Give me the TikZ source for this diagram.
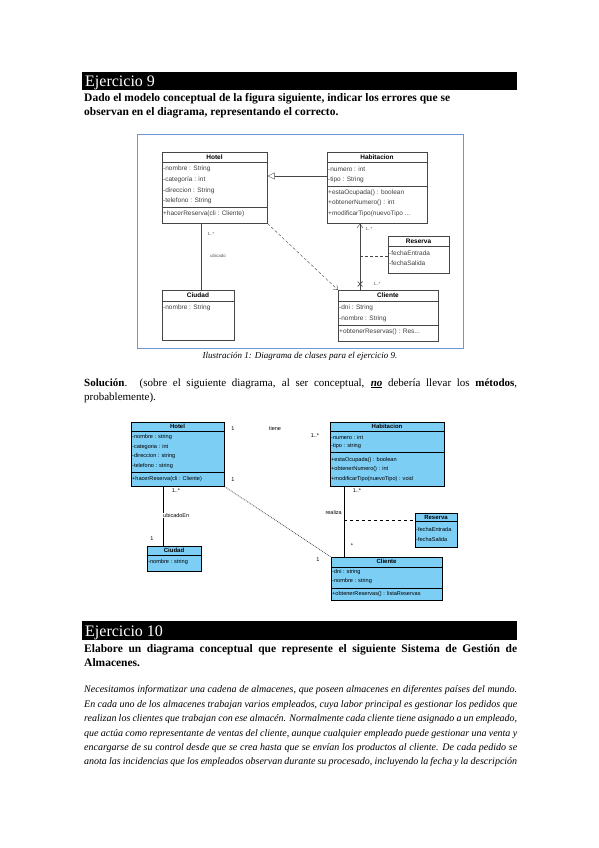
\documentclass[tikz,border=0pt]{standalone}
\usepackage{fontspec}
\setmainfont{Liberation Serif}
\newfontfamily\umlfont{Liberation Sans}
\usetikzlibrary{arrows.meta}
\definecolor{solblue}{RGB}{125,206,245}
\definecolor{framebl}{RGB}{110,150,210}
\definecolor{umlgray}{RGB}{70,70,70}
\begin{document}
\begin{tikzpicture}[x=1pt,y=-1pt,
  bar/.style={fill=black,draw=none},
  bartext/.style={anchor=base west,inner sep=0,text=white,font=\fontsize{16}{18}\selectfont},
  txt/.style={anchor=base west,inner sep=0,font=\fontsize{11}{13}\selectfont},
  btxt/.style={txt,font=\bfseries\fontsize{11.5}{13}\selectfont},
  itxt/.style={txt,font=\itshape\fontsize{10}{12}\selectfont},
  cls/.style={draw=umlgray,fill=white,line width=0.6pt,anchor=north west,inner sep=0},
  sol/.style={draw=black,fill=solblue,line width=0.7pt,anchor=north west,inner sep=0},
  hdr/.style={inner sep=0,font=\umlfont\bfseries\fontsize{6.5}{7}\selectfont},
  row/.style={anchor=west,inner sep=0,text=black!75,font=\umlfont\fontsize{6.5}{7}\selectfont},
  shdr/.style={inner sep=0,font=\umlfont\bfseries\fontsize{6}{7}\selectfont},
  srow/.style={anchor=west,inner sep=0,font=\umlfont\fontsize{5.6}{7}\selectfont},
  mult/.style={inner sep=0,text=black!65,font=\umlfont\fontsize{4.5}{5}\selectfont},
  smult/.style={inner sep=0,font=\umlfont\fontsize{5.5}{6}\selectfont}]
\useasboundingbox[fill=white] (0,0) rectangle (599,848);

% Ejercicio 9
\fill[bar] (82,72) rectangle (517,90);
\node[bartext] (ej9) at (85,86.5) {Ejercicio 9};
\node[btxt] (enun1) at (84,102) {Dado el modelo conceptual de la figura siguiente, indicar los errores que se};
\node[btxt] (enun2) at (84,116) {observan en el diagrama, representando el correcto.};

% diagrama original
\draw[framebl,line width=0.8pt] (137,134) rectangle (463,348);
\node[cls,minimum width=105pt,minimum height=71pt] (hotel) at (162,152) {};
\node[hdr] (hotelT) at (214.5,157) {Hotel};
\draw[umlgray] (hotel.west |- 0,162) -- (hotel.east |- 0,162);
\node[row] (h1) at (163,169) {-nombre : String};
\node[row] (h2) at (163,180) {-categoría : int};
\node[row] (h3) at (163,190.5) {-direccion : String};
\node[row] (h4) at (163,201) {-telefono : String};
\draw[umlgray] (hotel.west |- 0,207) -- (hotel.east |- 0,207);
\node[row] (h5) at (163,214) {+hacerReserva(cli : Cliente)};

\node[cls,minimum width=100pt,minimum height=71pt] (habitacion) at (327,152) {};
\node[hdr] (habT) at (377,157) {Habitacion};
\draw[umlgray] (habitacion.west |- 0,162) -- (habitacion.east |- 0,162);
\node[row] (b1) at (328,169) {-numero : int};
\node[row] (b2) at (328,180) {-tipo : String};
\draw[umlgray] (habitacion.west |- 0,186) -- (habitacion.east |- 0,186);
\node[row] (b3) at (328,192.5) {+estaOcupada() : boolean};
\node[row] (b4) at (328,203) {+obtenerNumero() : int};
\node[row] (b5) at (328,213.5) {+modificarTipo(nuevoTipo ...};

\node[cls,minimum width=72pt,minimum height=50pt] (ciudad) at (162,290) {};
\node[hdr] (ciuT) at (198,295.5) {Ciudad};
\draw[umlgray] (ciudad.west |- 0,301) -- (ciudad.east |- 0,301);
\node[row] (c1) at (163,308) {-nombre : String};

\node[cls,minimum width=61pt,minimum height=37pt] (reserva) at (388,236) {};
\node[hdr] (resT) at (418.5,241) {Reserva};
\draw[umlgray] (reserva.west |- 0,246.5) -- (reserva.east |- 0,246.5);
\node[row] (r1) at (389,253) {-fechaEntrada};
\node[row] (r2) at (389,263) {-fechaSalida};

\node[cls,minimum width=100pt,minimum height=51pt] (cliente) at (338,290) {};
\node[hdr] (cliT) at (388,295.5) {Cliente};
\draw[umlgray] (cliente.west |- 0,301) -- (cliente.east |- 0,301);
\node[row] (k1) at (339,308) {-dni : String};
\node[row] (k2) at (339,319) {-nombre : String};
\draw[umlgray] (cliente.west |- 0,325) -- (cliente.east |- 0,325);
\node[row] (k3) at (339,331.5) {+obtenerReservas() : Res...};

\draw[umlgray,-{Triangle[open,length=7pt,width=7pt]}] (habitacion.west |- 0,176) -- (hotel.east |- 0,176);
\draw[umlgray] (hotel.south -| 201,0) -- (ciudad.north -| 201,0);
\node[mult] (m1) at (211,234) {1..*};
\node[mult] (m2) at (218,256) {ubicado};
\draw[umlgray,densely dashed,-{Straight Barb[length=4pt,width=6pt]}] (hotel.south east) -- (cliente.north west);
\draw[umlgray,-{Straight Barb[length=4pt,width=6pt]}] (cliente.north -| 360,0) -- (habitacion.south -| 360,0);
\node[mult] (m3) at (369,229) {1..*};
\draw[umlgray,line width=0.7pt] (357.5,281.5) -- (362.5,286.5) (357.5,286.5) -- (362.5,281.5);
\node[mult] (m4) at (377,284) {1..*};
\coordinate (asoc) at (360,256);
\draw[umlgray,densely dashed] (asoc) -- (reserva.west |- asoc);

\node[inner sep=0,font=\itshape\fontsize{9}{11}\selectfont] (caption) at (300,356) {Ilustración 1: Diagrama de clases para el ejercicio 9.};

% Solucion
\node[txt] (solu1) at (84,386) {\makebox[433pt][s]{\textbf{Solución}. (sobre el siguiente diagrama, al ser conceptual, \textbf{\textit{\underline{no}}} debería llevar los \textbf{métodos},}};
\node[txt] (solu2) at (84,400) {probablemente).};

\node[sol,minimum width=93pt,minimum height=64pt] (hotelS) at (131,422) {};
\node[shdr] (hotelST) at (177.5,426.5) {Hotel};
\draw (hotelS.west |- 0,431) -- (hotelS.east |- 0,431);
\node[srow] (hs1) at (132,437) {-nombre : string};
\node[srow] (hs2) at (132,447) {-categoria : int};
\node[srow] (hs3) at (132,456.5) {-direccion : string};
\node[srow] (hs4) at (132,466) {-telefono : string};
\draw (hotelS.west |- 0,472) -- (hotelS.east |- 0,472);
\node[srow] (hs5) at (132,479) {+hacerReserva(cli : Cliente)};

\node[sol,minimum width=114pt,minimum height=64pt] (habitacionS) at (330,422) {};
\node[shdr] (habST) at (387,426.5) {Habitacion};
\draw (habitacionS.west |- 0,431) -- (habitacionS.east |- 0,431);
\node[srow] (bs1) at (331,437) {-numero : int};
\node[srow] (bs2) at (331,446.5) {-tipo : string};
\draw (habitacionS.west |- 0,452) -- (habitacionS.east |- 0,452);
\node[srow] (bs3) at (331,460) {+estaOcupada() : boolean};
\node[srow] (bs4) at (331,469.5) {+obtenerNumero() : int};
\node[srow] (bs5) at (331,479) {+modificarTipo(nuevoTipo) : void};

\node[sol,minimum width=54pt,minimum height=25pt] (ciudadS) at (147,546) {};
\node[shdr] (ciuST) at (174,550.5) {Ciudad};
\draw (ciudadS.west |- 0,555) -- (ciudadS.east |- 0,555);
\node[srow] (cs1) at (148,562.5) {-nombre : string};

\node[sol,minimum width=42pt,minimum height=34pt] (reservaS) at (415,513) {};
\node[shdr] (resST) at (436,517) {Reserva};
\draw (reservaS.west |- 0,521) -- (reservaS.east |- 0,521);
\node[srow] (rs1) at (416,529) {-fechaEntrada};
\node[srow] (rs2) at (416,539) {-fechaSalida};

\node[sol,minimum width=111pt,minimum height=43pt] (clienteS) at (331,557) {};
\node[shdr] (cliST) at (386.5,561.5) {Cliente};
\draw (clienteS.west |- 0,567) -- (clienteS.east |- 0,567);
\node[srow] (ks1) at (332,572) {-dni : string};
\node[srow] (ks2) at (332,581) {-nombre : string};
\draw (clienteS.west |- 0,588) -- (clienteS.east |- 0,588);
\node[srow] (ks3) at (332,594) {+obtenerReservas() : listaReservas};

\node[smult] (t1) at (233,429) {1};
\node[smult] (t2) at (275,429) {tiene};
\node[smult] (t3) at (315,436) {1..*};
\draw (hotelS.south -| 163,0) -- (ciudadS.north -| 163,0);
\node[smult] (u1) at (176,491) {1..*};
\node[smult,anchor=west,fill=white] (u2) at (163,515.5) {ubicadoEn};
\node[smult] (u3) at (152,539) {1};
\draw[black!70,densely dotted,thick] (hotelS.south east) -- (clienteS.north west);
\node[smult] (d1) at (233,480) {1};
\node[smult] (d2) at (318,560) {1};
\draw (habitacionS.south -| 344,0) -- (clienteS.north -| 344,0);
\node[smult] (v1) at (357,491) {1..*};
\node[smult,anchor=east] (v2) at (342,513) {realiza};
\node[smult] (v3) at (352,546) {*};
\coordinate (asocS) at (344,520);
\draw[dashed] (asocS) -- (reservaS.west |- asocS);

% Ejercicio 10
\fill[bar] (82,621) rectangle (517,640);
\node[bartext] (ej10) at (85,636) {Ejercicio 10};
\node[btxt] (enun3) at (84,652) {\makebox[433pt][s]{Elabore un diagrama conceptual que represente el siguiente Sistema de Gestión de}};
\node[btxt] (enun4) at (84,666) {Almacenes.};

\node[itxt] (p1) at (84,692) {\makebox[433pt][s]{Necesitamos informatizar una cadena de almacenes, que poseen almacenes en diferentes países del mundo.}};
\node[itxt] (p2) at (84,707) {\makebox[433pt][s]{En cada uno de los almacenes trabajan varios empleados, cuya labor principal es gestionar los pedidos que}};
\node[itxt] (p3) at (84,721) {\makebox[433pt][s]{realizan los clientes que trabajan con ese almacén. Normalmente cada cliente tiene asignado a un empleado,}};
\node[itxt] (p4) at (84,736) {\makebox[433pt][s]{que actúa como representante de ventas del cliente, aunque cualquier empleado puede gestionar una venta y}};
\node[itxt] (p5) at (84,750) {\makebox[433pt][s]{encargarse de su control desde que se crea hasta que se envían los productos al cliente. De cada pedido se}};
\node[itxt] (p6) at (84,764) {\makebox[433pt][s]{anota las incidencias que los empleados observan durante su procesado, incluyendo la fecha y la descripción}};
\end{tikzpicture}
\end{document}
